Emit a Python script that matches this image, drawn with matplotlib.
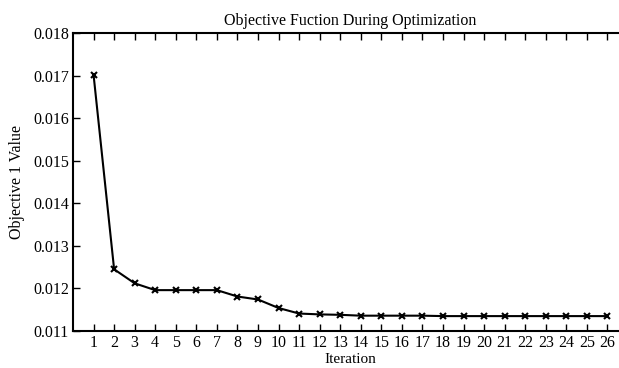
import matplotlib
matplotlib.use("Agg")
import matplotlib.pyplot as plt

iterations = list(range(1, 27))
objective = [0.01702, 0.01245, 0.01212, 0.01196, 0.01196, 0.01196, 0.01196,
             0.01181, 0.01174, 0.01154, 0.01141, 0.01139, 0.01138, 0.01136,
             0.01136, 0.01136, 0.01136, 0.01135, 0.01135, 0.01135, 0.01135,
             0.01135, 0.01135, 0.01135, 0.01135, 0.01135]
yticks = [0.011, 0.012, 0.013, 0.014, 0.015, 0.016, 0.017, 0.018]

plt.rcParams['font.family'] = ['Liberation Serif', 'DejaVu Serif']
fs = 11.5

fig = plt.figure(figsize=(6.19, 3.68), dpi=100)
ax = fig.add_axes([73/619, 37/368, (628-73)/619, (331-33)/368])
ax.plot(iterations, objective, color='black', linewidth=1.5, marker='x',
        markersize=5, markeredgewidth=1.5)
ax.set_xlim(0, 27)
ax.set_ylim(0.011, 0.018)
ax.set_xticks(iterations)
ax.set_yticks(yticks)
ax.set_yticklabels([f"{v:.3f}" for v in yticks])
ax.tick_params(direction='in', length=5, width=1, top=True, right=False,
               labelsize=fs, pad=3, colors='black')
for s in ax.spines.values():
    s.set_linewidth(1.5)
ax.spines['right'].set_visible(False)
ax.set_title("Objective Fuction During Optimization", fontsize=fs, pad=6)
ax.set_xlabel("Iteration", fontsize=11)
ax.xaxis.set_label_coords(0.5, -0.073)
ax.set_ylabel("Objective 1 Value", fontsize=fs, labelpad=6)
fig.savefig("out.png", dpi=100)
